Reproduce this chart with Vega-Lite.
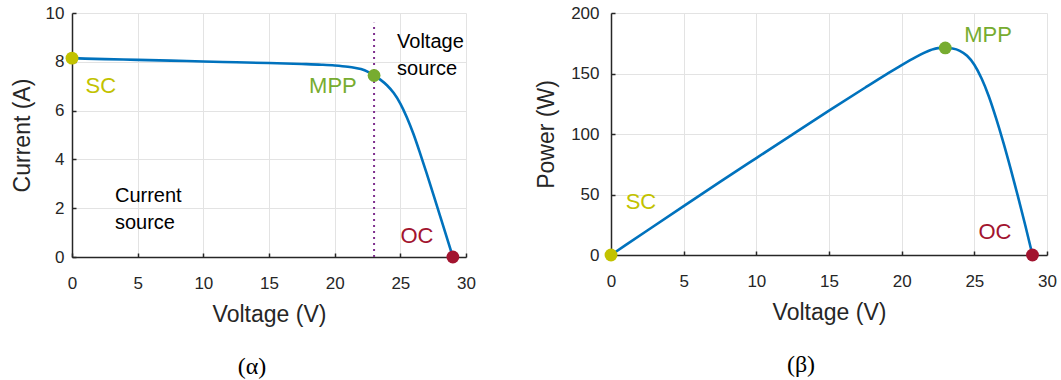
{
  "$schema": "https://vega.github.io/schema/vega-lite/v6.json",
  "background": "white",
  "padding": {"left": 11, "top": 4, "right": 0, "bottom": 0},
  "spacing": 59,
  "datasets": {
    "curve": [
      {"V": 0, "I": 8.15, "P": 0},
      {"V": 1, "I": 8.13, "P": 8.13},
      {"V": 2.5, "I": 8.11, "P": 20.28},
      {"V": 5, "I": 8.08, "P": 40.4},
      {"V": 7.5, "I": 8.05, "P": 60.38},
      {"V": 10, "I": 8.01, "P": 80.1},
      {"V": 12.5, "I": 7.98, "P": 99.75},
      {"V": 15, "I": 7.95, "P": 119.25},
      {"V": 17.5, "I": 7.91, "P": 138.43},
      {"V": 19, "I": 7.88, "P": 149.72},
      {"V": 20, "I": 7.85, "P": 157},
      {"V": 21, "I": 7.8, "P": 163.8},
      {"V": 21.5, "I": 7.76, "P": 166.84},
      {"V": 22, "I": 7.7, "P": 169.4},
      {"V": 22.5, "I": 7.6, "P": 171.0},
      {"V": 23, "I": 7.44, "P": 171.12},
      {"V": 23.5, "I": 7.26, "P": 170.61},
      {"V": 24, "I": 7.03, "P": 168.72},
      {"V": 24.5, "I": 6.72, "P": 164.64},
      {"V": 25, "I": 6.29, "P": 157.25},
      {"V": 25.5, "I": 5.72, "P": 145.86},
      {"V": 26, "I": 5.04, "P": 131.04},
      {"V": 26.5, "I": 4.26, "P": 112.89},
      {"V": 27, "I": 3.44, "P": 92.88},
      {"V": 27.5, "I": 2.59, "P": 71.23},
      {"V": 28, "I": 1.73, "P": 48.44},
      {"V": 28.5, "I": 0.87, "P": 24.8},
      {"V": 29, "I": 0, "P": 0}
    ],
    "points": [
      {"name": "SC", "V": 0, "I": 8.15, "P": 0},
      {"name": "MPP", "V": 23, "I": 7.44, "P": 171.12},
      {"name": "OC", "V": 29, "I": 0, "P": 0}
    ],
    "labelsIV": [
      {"name": "SC", "V": 2.2, "I": 7.0},
      {"name": "MPP", "V": 19.87, "I": 7.0},
      {"name": "OC", "V": 26.27, "I": 0.86}
    ],
    "labelsPV": [
      {"name": "SC", "V": 2.06, "P": 43.8},
      {"name": "MPP", "V": 25.94, "P": 181.8},
      {"name": "OC", "V": 26.42, "P": 18.6}
    ],
    "notes": [
      {"text": "Voltage", "V": 24.75, "I": 8.81},
      {"text": "source", "V": 24.75, "I": 7.7},
      {"text": "Current", "V": 3.27, "I": 2.52},
      {"text": "source", "V": 3.27, "I": 1.39}
    ],
    "mppLine": [{"V": 23, "I0": 0, "I1": 9.6}]
  },
  "hconcat": [
    {
      "width": 394,
      "height": 244,
      "title": {"text": "(α)", "orient": "bottom", "anchor": "middle", "font": "Liberation Serif", "fontSize": 24, "fontWeight": "normal", "color": "#000000", "offset": 29, "dx": -17},
      "layer": [
        {
          "data": {"name": "mppLine"},
          "mark": {"type": "rule", "color": "#7E2F8E", "strokeWidth": 2, "strokeDash": [2, 4]},
          "encoding": {
            "x": {"field": "V", "type": "quantitative", "scale": {"domain": [0, 30], "nice": false}},
            "y": {"field": "I0", "type": "quantitative", "scale": {"domain": [0, 10], "nice": false}},
            "y2": {"field": "I1"}
          }
        },
        {
          "data": {"name": "curve"},
          "mark": {"type": "line", "color": "#0072BD", "strokeWidth": 2.6, "interpolate": "monotone"},
          "encoding": {
            "x": {"field": "V", "type": "quantitative", "scale": {"domain": [0, 30], "nice": false},
              "axis": {"title": "Voltage (V)", "values": [0, 5, 10, 15, 20, 25, 30], "labelPadding": 22, "titlePadding": 12}},
            "y": {"field": "I", "type": "quantitative", "scale": {"domain": [0, 10], "nice": false},
              "axis": {"title": "Current (A)", "values": [0, 2, 4, 6, 8, 10], "labelPadding": 12, "titlePadding": 11}}
          }
        },
        {
          "data": {"name": "points"},
          "mark": {"type": "circle", "size": 165, "opacity": 1},
          "encoding": {
            "x": {"field": "V", "type": "quantitative"},
            "y": {"field": "I", "type": "quantitative"},
            "color": {"field": "name", "type": "nominal", "scale": {"domain": ["SC", "MPP", "OC"], "range": ["#C2C200", "#77AC30", "#A2142F"]}, "legend": null}
          }
        },
        {
          "data": {"name": "labelsIV"},
          "mark": {"type": "text", "font": "Liberation Sans", "fontSize": 22, "align": "center", "baseline": "middle"},
          "encoding": {
            "x": {"field": "V", "type": "quantitative"},
            "y": {"field": "I", "type": "quantitative"},
            "text": {"field": "name"},
            "color": {"field": "name", "type": "nominal", "scale": {"domain": ["SC", "MPP", "OC"], "range": ["#C2C200", "#77AC30", "#A2142F"]}, "legend": null}
          }
        },
        {
          "data": {"name": "notes"},
          "mark": {"type": "text", "font": "Liberation Sans", "fontSize": 20, "align": "left", "baseline": "middle", "color": "#000000"},
          "encoding": {
            "x": {"field": "V", "type": "quantitative"},
            "y": {"field": "I", "type": "quantitative"},
            "text": {"field": "text"}
          }
        }
      ]
    },
    {
      "width": 436,
      "height": 242,
      "title": {"text": "(β)", "orient": "bottom", "anchor": "middle", "font": "Liberation Serif", "fontSize": 24, "fontWeight": "normal", "color": "#000000", "offset": 29, "dx": -28},
      "layer": [
        {
          "data": {"name": "curve"},
          "mark": {"type": "line", "color": "#0072BD", "strokeWidth": 2.6, "interpolate": "monotone"},
          "encoding": {
            "x": {"field": "V", "type": "quantitative", "scale": {"domain": [0, 30], "nice": false},
              "axis": {"title": "Voltage (V)", "values": [0, 5, 10, 15, 20, 25, 30], "labelPadding": 22, "titlePadding": 12}},
            "y": {"field": "P", "type": "quantitative", "scale": {"domain": [0, 200], "nice": false},
              "axis": {"title": "Power (W)", "values": [0, 50, 100, 150, 200], "labelPadding": 16, "titlePadding": 12}}
          }
        },
        {
          "data": {"name": "points"},
          "mark": {"type": "circle", "size": 165, "opacity": 1},
          "encoding": {
            "x": {"field": "V", "type": "quantitative"},
            "y": {"field": "P", "type": "quantitative"},
            "color": {"field": "name", "type": "nominal", "scale": {"domain": ["SC", "MPP", "OC"], "range": ["#C2C200", "#77AC30", "#A2142F"]}, "legend": null}
          }
        },
        {
          "data": {"name": "labelsPV"},
          "mark": {"type": "text", "font": "Liberation Sans", "fontSize": 22, "align": "center", "baseline": "middle"},
          "encoding": {
            "x": {"field": "V", "type": "quantitative"},
            "y": {"field": "P", "type": "quantitative"},
            "text": {"field": "name"},
            "color": {"field": "name", "type": "nominal", "scale": {"domain": ["SC", "MPP", "OC"], "range": ["#C2C200", "#77AC30", "#A2142F"]}, "legend": null}
          }
        }
      ]
    }
  ],
  "config": {
    "view": {"stroke": null},
    "axis": {
      "domainColor": "#262626", "domainWidth": 1.5,
      "tickColor": "#262626", "tickWidth": 1.5, "tickSize": -4,
      "labelFont": "Liberation Sans", "labelFontSize": 17, "labelColor": "#262626",
      "labelFlush": false, "labelOverlap": false,
      "titleFont": "Liberation Sans", "titleFontSize": 23, "titleFontWeight": "normal", "titleColor": "#262626",
      "gridColor": "#e3e3e3", "gridWidth": 1
    }
  }
}
